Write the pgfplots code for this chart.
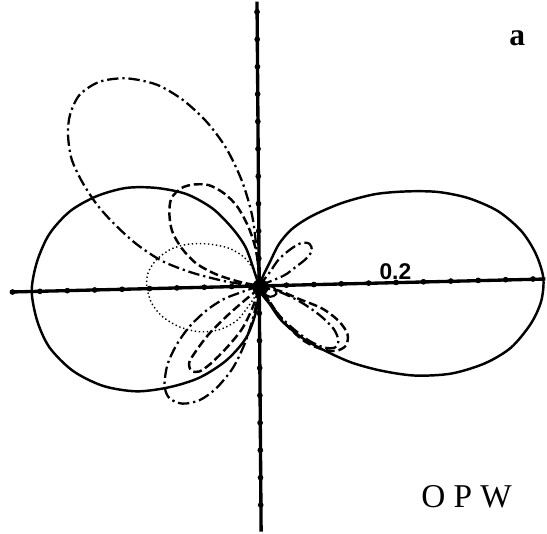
\documentclass[border=0pt]{standalone}
\usepackage{fontspec}
\setmainfont{Liberation Serif}
\newfontfamily\labelfont{Liberation Sans}
\usepackage{pgfplots}
\pgfplotsset{compat=1.18}

\begin{document}
\begin{tikzpicture}
\begin{axis}[
    scale only axis,
    width=10.94cm, height=10.64cm,
    xmin=-0.3783, xmax=0.4176,
    ymin=-0.3594, ymax=0.4147,
    axis line style={draw=none},
    ticks=none,
    clip=false,
    dashdot/.style={line width=1.3pt, dash pattern=on 6.5pt off 2.2pt on 1.3pt off 2.2pt},
    dashd/.style={line width=1.4pt, dash pattern=on 5pt off 2.2pt},
]

% axes with tick dots every 0.04
\addplot[black, line width=1.9pt] coordinates {(-0.364,-0.009) (0.418,0.010)};
\addplot[black, line width=1.9pt] coordinates {(-0.003,0.415) (0.003,-0.359)};
\addplot[only marks, mark=*, mark size=1.4pt, black] coordinates {
    (-0.36,-0.009) (-0.32,-0.008) (-0.28,-0.007) (-0.24,-0.006) (-0.20,-0.005)
    (-0.16,-0.004) (-0.12,-0.003) (-0.08,-0.002) (-0.04,-0.001)
    (0.04,0.001) (0.08,0.002) (0.12,0.003) (0.16,0.004) (0.20,0.005)
    (0.24,0.006) (0.28,0.007) (0.32,0.008) (0.36,0.009) (0.40,0.010)
    (-0.0003,0.04) (-0.0006,0.08) (-0.0009,0.12) (-0.0012,0.16) (-0.0015,0.20)
    (-0.0018,0.24) (-0.0021,0.28) (-0.0024,0.32) (-0.0027,0.36) (-0.0030,0.40)
    (0.0003,-0.04) (0.0006,-0.08) (0.0009,-0.12) (0.0012,-0.16)
    (0.0015,-0.20) (0.0018,-0.24) (0.0021,-0.28) (0.0024,-0.32)
};
\addplot[only marks, mark=*, mark size=4.5pt, black] coordinates {(0.002,-0.002)};

% solid: right lobe
\addplot[black, line width=1.4pt, smooth, tension=0.5] coordinates {
    (0,0) (0.007,0.017) (0.015,0.033) (0.029,0.061) (0.048,0.083) (0.077,0.102)
    (0.121,0.121) (0.170,0.134) (0.218,0.138) (0.262,0.137) (0.306,0.128)
    (0.349,0.109) (0.383,0.080) (0.404,0.047) (0.415,0.012) (0.412,-0.022)
    (0.397,-0.055) (0.368,-0.090) (0.330,-0.113) (0.281,-0.128) (0.228,-0.131)
    (0.179,-0.124) (0.135,-0.112) (0.097,-0.095) (0.063,-0.076) (0.033,-0.051)
    (0.015,-0.026) (0.004,-0.012) (0,0)
};
% solid: left lobe
\addplot[black, line width=1.4pt, smooth, tension=0.5] coordinates {
    (0,0) (-0.004,0.012) (-0.019,0.055) (-0.039,0.084) (-0.068,0.113)
    (-0.106,0.134) (-0.150,0.143) (-0.194,0.143) (-0.237,0.131) (-0.276,0.109)
    (-0.306,0.076) (-0.324,0.036) (-0.332,-0.007) (-0.324,-0.051) (-0.306,-0.090)
    (-0.272,-0.124) (-0.228,-0.146) (-0.179,-0.154) (-0.131,-0.148)
    (-0.087,-0.134) (-0.048,-0.109) (-0.019,-0.076) (-0.004,-0.036) (0,0)
};
% solid: small loop at the centre
\addplot[black, line width=1.2pt, smooth, tension=0.6] coordinates {
    (0,-0.003) (0.015,0.000) (0.023,-0.004) (0.025,-0.012) (0.016,-0.016)
    (0.006,-0.010) (0,-0.003)
};

% dash-dot: large upper-left lobe
\addplot[black, dashdot, smooth, tension=0.5] coordinates {
    (0,0) (-0.003,0.047) (-0.010,0.102) (-0.025,0.153) (-0.048,0.201)
    (-0.077,0.240) (-0.112,0.272) (-0.150,0.294) (-0.194,0.303) (-0.233,0.298)
    (-0.262,0.279) (-0.276,0.250) (-0.279,0.221) (-0.274,0.186) (-0.259,0.153)
    (-0.237,0.119) (-0.211,0.090) (-0.179,0.061) (-0.141,0.036) (-0.097,0.019)
    (-0.051,0.007) (-0.015,0.001) (0,0)
};
% dash-dot: lower-left lobe
\addplot[black, dashdot, smooth, tension=0.5] coordinates {
    (0,0) (-0.025,-0.009) (-0.051,-0.019) (-0.077,-0.036) (-0.102,-0.060)
    (-0.121,-0.087) (-0.134,-0.116) (-0.138,-0.146) (-0.131,-0.164)
    (-0.112,-0.172) (-0.087,-0.167) (-0.063,-0.150) (-0.039,-0.121)
    (-0.022,-0.087) (-0.010,-0.051) (-0.003,-0.022) (0,0)
};
% dash-dot: lower-right lobe
\addplot[black, dashdot, smooth, tension=0.5] coordinates {
    (0,0) (0.033,-0.010) (0.063,-0.025) (0.090,-0.044) (0.109,-0.063)
    (0.116,-0.080) (0.111,-0.090) (0.095,-0.090) (0.073,-0.080)
    (0.048,-0.061) (0.026,-0.039) (0,0)
};
% dash-dot: small upper-right lobe
\addplot[black, dashdot, smooth, tension=0.5] coordinates {
    (0,0) (0.015,0.019) (0.029,0.039) (0.048,0.055) (0.063,0.063)
    (0.074,0.061) (0.077,0.051) (0.068,0.039) (0.054,0.028) (0.036,0.015) (0,0)
};

% dashed: upper-left lobe
\addplot[black, dashd, smooth, tension=0.5] coordinates {
    (0,0) (-0.001,0.029) (-0.006,0.058) (-0.016,0.087) (-0.032,0.116)
    (-0.051,0.135) (-0.073,0.147) (-0.095,0.148) (-0.113,0.143) (-0.128,0.128)
    (-0.131,0.106) (-0.127,0.080) (-0.113,0.055) (-0.092,0.033) (-0.063,0.017)
    (-0.029,0.006) (0,0)
};
% dashed: lower-left lobe
\addplot[black, dashd, smooth, tension=0.5] coordinates {
    (0,-0.004) (-0.022,-0.022) (-0.047,-0.044) (-0.073,-0.070) (-0.092,-0.095)
    (-0.102,-0.112) (-0.099,-0.124) (-0.087,-0.125) (-0.070,-0.113)
    (-0.047,-0.090) (-0.025,-0.063) (-0.010,-0.033) (0,-0.004)
};
% dashed: lower-right lobe
\addplot[black, dashd, smooth, tension=0.5] coordinates {
    (0.003,-0.003) (0.029,-0.007) (0.058,-0.019) (0.092,-0.033) (0.116,-0.051)
    (0.129,-0.070) (0.127,-0.087) (0.112,-0.095) (0.090,-0.092) (0.065,-0.080)
    (0.041,-0.058) (0.022,-0.033) (0.003,-0.003)
};

% dotted: left oval
\addplot[black, line width=0.8pt, dash pattern=on 0.8pt off 1.5pt, smooth, tension=0.5] coordinates {
    (-0.001,0.003) (-0.009,0.025) (-0.022,0.042) (-0.044,0.055) (-0.073,0.061)
    (-0.102,0.061) (-0.128,0.054) (-0.150,0.038) (-0.162,0.019) (-0.164,-0.001)
    (-0.157,-0.025) (-0.141,-0.045) (-0.116,-0.060) (-0.087,-0.067)
    (-0.058,-0.064) (-0.033,-0.051) (-0.015,-0.029) (-0.003,-0.010) (-0.001,0.003)
};

\node[font=\labelfont\bfseries\fontsize{13}{14}\selectfont] at (axis cs:0.199,0.021) {0.2};
\node[font=\bfseries\fontsize{18}{20}\selectfont] at (axis cs:0.377,0.362) {a};
\node[font=\fontsize{19}{22}\selectfont] at (axis cs:0.303,-0.308) {O P W};

\end{axis}
\end{tikzpicture}
\end{document}
